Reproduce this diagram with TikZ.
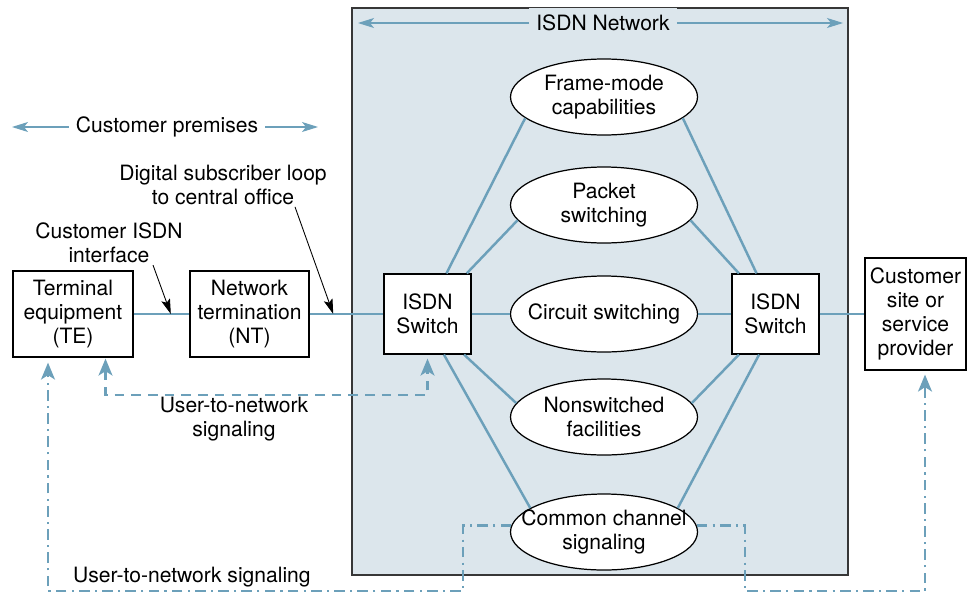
\documentclass[tikz,border=0pt]{standalone}
\usepackage{fontspec}
\setmainfont{TeX Gyre Heros}
\usetikzlibrary{arrows.meta,positioning,calc,shapes.geometric}
\definecolor{isdnblue}{RGB}{108,160,186}
\definecolor{isdnfill}{RGB}{220,230,236}
\definecolor{isdngray}{RGB}{55,55,55}
\newcommand{\lblfont}{\fontsize{12}{13.6}\selectfont}
\tikzset{
  box/.style={draw=black, fill=white, line width=0.7pt, align=center, font=\lblfont, inner sep=0pt},
  oval/.style={ellipse, draw=black, fill=white, line width=0.7pt, align=center, font=\lblfont,
               minimum width=3.74cm, minimum height=1.52cm, inner ysep=0pt, inner xsep=-0.35cm},
  lbl/.style={align=center, font=\lblfont, inner sep=1pt},
  hdr/.style={font=\lblfont, inner sep=0.14cm},
  link/.style={isdnblue, line width=1.4pt},
  span/.style={-{Stealth[length=3.2mm, width=2mm, inset=0.8mm]}, isdnblue, line width=0.6pt},
  ptr/.style={-{Stealth[length=3mm, width=1.8mm, inset=0.6mm]}, black, line width=0.5pt},
  usig/.style={isdnblue, line width=1.2pt, dash pattern=on 5.5pt off 4pt},
  csig/.style={isdnblue, line width=1.2pt, dash pattern=on 6pt off 3pt on 1.2pt off 3pt},
  uptip/.style={-{Stealth[length=3.4mm, width=2.8mm, inset=0.9mm]}},
  bothtip/.style={{Stealth[length=3.4mm, width=2.8mm, inset=0.9mm]}-{Stealth[length=3.4mm, width=2.8mm, inset=0.9mm]}},
}

\begin{document}
\begin{tikzpicture}
    \useasboundingbox (0,0) rectangle (19.38,11.88);
    \draw[isdngray, fill=isdnfill, line width=0.6pt] (7.04,0.38) rectangle (16.96,11.72);
    \node[hdr, fill=isdnfill] (net) at (12.06,11.42) {ISDN Network};
    \coordinate (netL) at (7.16,11.42); \coordinate (netR) at (16.86,11.42);
    \draw[span] (net.west) -- (netL); \draw[span] (net.east) -- (netR);
    \node[hdr] (prem) at (3.34,9.34) {Customer premises};
    \coordinate (premL) at (0.24,9.34); \coordinate (premR) at (6.36,9.34);
    \draw[span] (prem.west) -- (premL); \draw[span] (prem.east) -- (premR);

    \node[box, minimum width=2.4cm, minimum height=1.72cm] (te) at (1.46,5.6) {Terminal\\equipment\\(TE)};
    \node[box, minimum width=2.38cm, minimum height=1.72cm] (nt) at (4.99,5.6) {Network\\termination\\(NT)};
    \node[box, minimum width=1.74cm, minimum height=1.6cm] (swL) at (8.55,5.6) {ISDN\\Switch};
    \node[box, minimum width=1.74cm, minimum height=1.6cm] (swR) at (15.51,5.6) {ISDN\\Switch};
    \node[box, minimum width=2.02cm, minimum height=2.24cm] (site) at (18.31,5.6) {Customer\\site or\\service\\provider};

    \node[oval] (fm) at (12.08,9.94) {Frame-mode\\capabilities};
    \node[oval] (pk) at (12.08,7.78) {Packet\\switching};
    \node[oval] (circ) at (12.08,5.6) {Circuit switching};
    \node[oval] (ns) at (12.08,3.54) {Nonswitched\\facilities};
    \node[oval] (cc) at (12.08,1.24) {Common channel\\signaling};

    \draw[link] (te) -- (nt); \draw[link] (nt) -- (swL); \draw[link] (swL) -- (circ);
    \draw[link] (circ) -- (swR); \draw[link] (swR) -- (site);
    \draw[link] (swL.65) -- (fm.195); \draw[link] (swL.46) -- (pk.190);
    \draw[link] (swL.-48) -- (ns.171); \draw[link] (swL.-68) -- (cc.162);
    \draw[link] (swR.115) -- (fm.-15); \draw[link] (swR.132) -- (pk.-10);
    \draw[link] (swR.-132) -- (ns.9); \draw[link] (swR.-112) -- (cc.18);

    \node[lbl] (ci) at (2.18,7.02) {Customer ISDN\\interface};
    \node[lbl] (dsl) at (4.46,8.18) {Digital subscriber loop\\to central office};
    \coordinate (ciTip) at ($(te.east)!0.667!(nt.west)$);
    \coordinate (dslTip) at ($(nt.east)!0.32!(swL.west)$);
    \draw[ptr] ($(ci.south)+(0.88,0)$) -- (ciTip);
    \draw[ptr] ($(dsl.south)+(1.44,0)$) -- (dslTip);

    \draw[usig, bothtip, shorten <=0.02cm, shorten >=0.08cm]
      ([xshift=0.65cm]te.south) |- ($(swL.south)+(0,-0.8)$) -- (swL.south);
    \node[lbl] (usr) at (4.68,3.5) {User-to-network\\signaling};

    \coordinate (sigL) at (9.26,0.06); \coordinate (sigR) at (14.9,0.06);
    \draw[csig, uptip, shorten >=0.1cm] (cc.176) -| (sigL) -| ([xshift=-0.5cm]te.south);
    \draw[csig, uptip, shorten >=0.08cm] (cc.4) -| (sigR) -| ([xshift=0.19cm]site.south);
    \node[lbl, anchor=west] (usr2) at (1.42,0.34) {User-to-network signaling};
  \end{tikzpicture}
\end{document}
